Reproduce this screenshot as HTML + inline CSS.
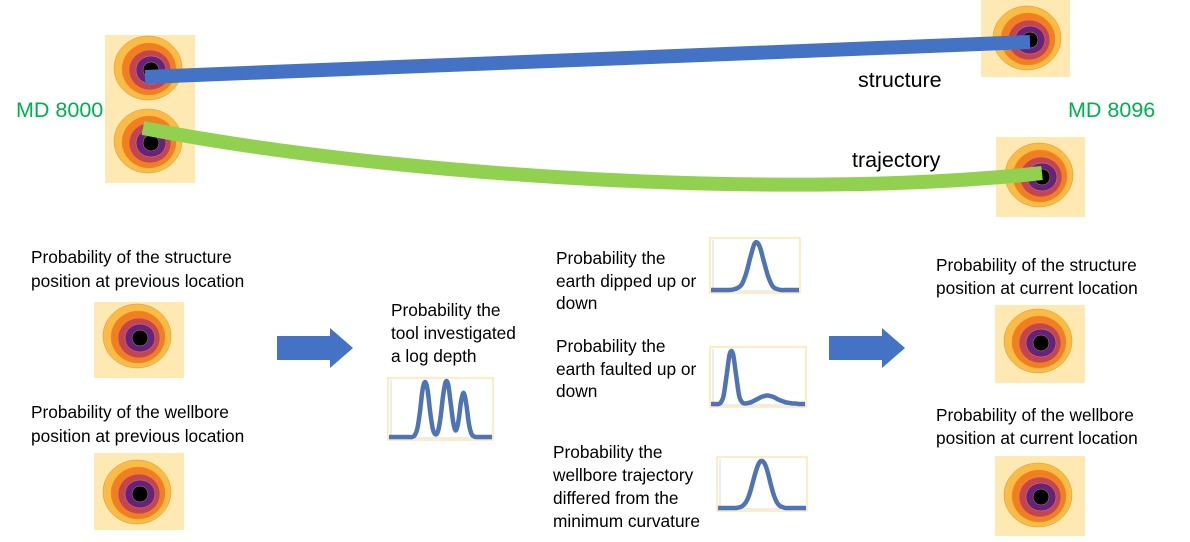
<!DOCTYPE html>
<html><head><meta charset="utf-8"><style>
html,body{margin:0;padding:0;background:#fff}
svg{display:block}
text{font-family:"Liberation Sans",sans-serif;font-size:17.3px;fill:#000}
</style></head><body>
<svg id="s" width="1190" height="542" viewBox="0 0 1190 542">
<g id="icons"></g>
<path d="M145,77 L1030,42" stroke="#4472C4" stroke-width="14" fill="none"/>
<path d="M143,128 C400,178 800,200 1042,173" stroke="#92D050" stroke-width="14" fill="none"/>
<text x="16" y="117" style="fill:#00B050;font-size:21.5px">MD 8000</text>
<text x="1068" y="117" style="fill:#00B050;font-size:21.5px">MD 8096</text>
<text x="858" y="87" style="font-size:21.5px">structure</text>
<text x="852" y="167" style="font-size:21.5px">trajectory</text>
<g>
<text x="31" y="263">Probability of the structure</text><text x="31" y="287">position at previous location</text>
<text x="31" y="418">Probability of the wellbore</text><text x="31" y="442">position at previous location</text>
<text x="391" y="316">Probability the</text><text x="391" y="339">tool investigated</text><text x="391" y="362">a log depth</text>
<text x="556" y="264">Probability the</text><text x="556" y="287">earth dipped up or</text><text x="556" y="309">down</text>
<text x="556" y="352">Probability the</text><text x="556" y="375">earth faulted up or</text><text x="556" y="397">down</text>
<text x="553" y="458">Probability the</text><text x="553" y="481">wellbore trajectory</text><text x="553" y="504">differed from the</text><text x="553" y="527">minimum curvature</text>
<text x="936" y="271">Probability of the structure</text><text x="936" y="294">position at current location</text>
<text x="936" y="421">Probability of the wellbore</text><text x="936" y="444">position at current location</text>
</g>
<path d="M277,336 H330 V328 L353,348 L330,368 V360 H277 Z" fill="#4472C4"/>
<path d="M829,336 H882 V328 L905,348 L882,368 V360 H829 Z" fill="#4472C4"/>
<g id="charts"></g>
</svg>
<script>
const dipValues=[0,0,0,0,0,0.01,0.04,0.12,0.35,0.7,0.98,0.92,0.6,0.28,0.08,0.02,0,0,0,0,0];
const faultValues=[0,0,0,0.02,0.15,0.55,0.95,0.95,0.55,0.15,0.03,0.01,0.02,0.04,0.07,0.1,0.13,0.15,0.16,0.15,0.13,0.1,0.07,0.05,0.03,0.02,0.01,0.01,0,0,0];
const logValues=[0,0,0,0,0,0,0,0,0,0,0.03,0.15,0.45,0.85,1.0,0.85,0.45,0.15,0.05,0.1,0.35,0.75,1.0,0.95,0.6,0.25,0.12,0.3,0.65,0.8,0.6,0.25,0.06,0.01,0,0,0,0,0,0,0];
const trajValues=[0,0,0,0,0,0,0,0.01,0.03,0.08,0.18,0.35,0.58,0.8,0.96,1.0,0.93,0.75,0.5,0.28,0.13,0.05,0.02,0,0,0,0,0,0,0,0];
const NS="http://www.w3.org/2000/svg";
const ig=document.getElementById('icons');
function icon(bx,by,bw,bh,cx,cy,name){
  const g=document.createElementNS(NS,'g');
  
  
  const r=document.createElementNS(NS,'rect');
  r.setAttribute('x',bx);r.setAttribute('y',by);r.setAttribute('width',bw);r.setAttribute('height',bh);r.setAttribute('fill','#FFE9B3');
  g.appendChild(r);
  const rings=[[34,32,'#FBBB44',0,0],[27,26,'#F47E1F',1,1],[21,20,'#C64452',2,2],[15,14,'#66227E',3,2],[8,8,'#000',3,2]];
  rings.forEach(q=>{const e=document.createElementNS(NS,'ellipse');
    e.setAttribute('cx',cx+q[3]);e.setAttribute('cy',cy+q[4]);e.setAttribute('rx',q[0]);e.setAttribute('ry',q[1]);
    e.setAttribute('fill',q[2]);e.setAttribute('stroke','#c99a40');e.setAttribute('stroke-width','0.5');g.appendChild(e);});
  ig.appendChild(g);
}
icon(105,35,90,74,148,68,'icon-structure-start');
icon(105,109,90,74,148,141,'icon-wellbore-start');
icon(981,0,89,77,1027,38,'icon-structure-end');
icon(996,137,89,80,1039,175,'icon-wellbore-end');
icon(94,302,90,76,137,336,'icon-structure-previous');
icon(94,453,90,77,137,492,'icon-wellbore-previous');
icon(995,305,90,78,1038,341,'icon-structure-current');
icon(995,456,90,80,1038,495,'icon-wellbore-current');
const cg=document.getElementById('charts');
function chart(vals,x0,y0,x1,y1,name){
  const g=document.createElementNS(NS,'g');
  
  
  const r=document.createElementNS(NS,'rect');
  r.setAttribute('x',x0);r.setAttribute('y',y0);r.setAttribute('width',x1-x0);r.setAttribute('height',y1-y0);
  r.setAttribute('fill','#fff');r.setAttribute('stroke','#FFD98A');r.setAttribute('stroke-width','1');g.appendChild(r);
  const ax=document.createElementNS(NS,'path');
  ax.setAttribute('d',`M${x0+3},${y0+2} V${y1-2} H${x1-2}`);ax.setAttribute('stroke','#ccc');ax.setAttribute('stroke-width','0.7');ax.setAttribute('fill','none');g.appendChild(ax);
  const n=vals.length, xs=i=>x0+1+i*(x1-x0-2)/(n-1), ys=v=>y1-3-v*(y1-y0-7);
  const pts=vals.map((v,i)=>[xs(i),ys(v)]);
  let d=`M${pts[0][0]},${pts[0][1]}`;
  for(let i=0;i<n-1;i++){const p0=pts[Math.max(0,i-1)],p1=pts[i],p2=pts[i+1],p3=pts[Math.min(n-1,i+2)];
    d+=` C${p1[0]+(p2[0]-p0[0])/6},${p1[1]+(p2[1]-p0[1])/6} ${p2[0]-(p3[0]-p1[0])/6},${p2[1]-(p3[1]-p1[1])/6} ${p2[0]},${p2[1]}`;}
  const p=document.createElementNS(NS,'path');
  p.setAttribute('d',d);p.setAttribute('stroke','#4F74B4');p.setAttribute('stroke-width','4.5');p.setAttribute('fill','none');p.setAttribute('stroke-linejoin','round');
  
  
  g.appendChild(p);cg.appendChild(g);
}
chart(dipValues,710,238,800,293,'dip-chart');
chart(faultValues,710,347,806,407,'fault-chart');
chart(logValues,388,378,493,440,'log-depth-chart');
chart(trajValues,717,457,807,511,'trajectory-chart');
</script>
</body></html>
